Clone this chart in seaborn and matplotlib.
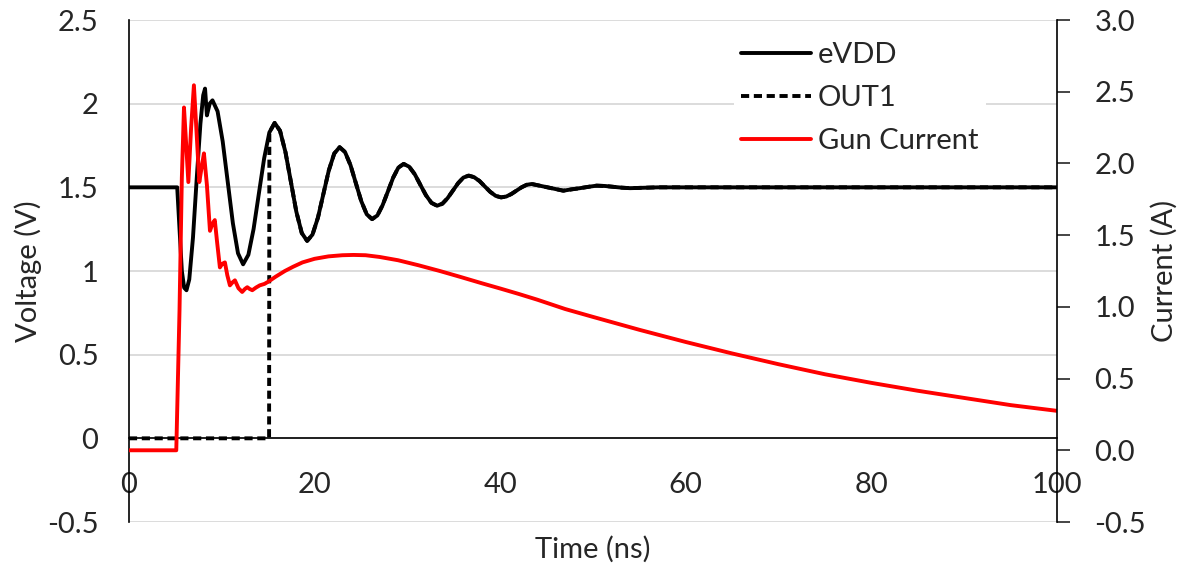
import matplotlib
matplotlib.use("Agg")
import matplotlib.pyplot as plt
import seaborn as sns
import pandas as pd

# time axis (ns) and supply voltage eVDD (V)
evdd_t = [0, 5.2, 5.4, 5.7, 5.95, 6.2, 6.5, 6.9, 7.3, 7.7,
          8.0, 8.2, 8.4, 8.7, 9.0, 9.55, 10.1, 10.65, 11.2, 11.75,
          12.3, 12.87, 13.43, 14.0, 14.57, 15.13, 15.7, 16.28, 16.87, 17.45,
          18.03, 18.62, 19.2, 19.78, 20.37, 20.95, 21.53, 22.12, 22.7, 23.28,
          23.87, 24.45, 25.03, 25.62, 26.2, 26.77, 27.33, 27.9, 28.47, 29.03,
          29.6, 30.2, 30.8, 31.4, 32.0, 32.6, 33.2, 33.77, 34.33, 34.9,
          35.47, 36.03, 36.6, 37.18, 37.77, 38.35, 38.93, 39.52, 40.1, 40.65,
          41.2, 41.75, 42.3, 42.85, 43.4, 44.25, 45.1, 45.95, 46.8, 47.7,
          48.6, 49.5, 50.4, 51.3, 52.2, 53.1, 54.0, 57.0, 100.0]
evdd_v = [1.5, 1.5, 1.3, 1.0, 0.9, 0.885, 0.95, 1.2, 1.55, 1.88,
          2.05, 2.09, 1.93, 2.0, 2.02, 1.954, 1.775, 1.53, 1.285, 1.106,
          1.04, 1.097, 1.251, 1.463, 1.674, 1.828, 1.885, 1.838, 1.709, 1.533,
          1.356, 1.227, 1.18, 1.218, 1.32, 1.46, 1.60, 1.702, 1.74, 1.711,
          1.633, 1.525, 1.418, 1.339, 1.31, 1.332, 1.393, 1.475, 1.558, 1.618,
          1.64, 1.623, 1.578, 1.515, 1.453, 1.407, 1.39, 1.402, 1.435, 1.48,
          1.525, 1.558, 1.57, 1.561, 1.538, 1.505, 1.473, 1.449, 1.44, 1.445,
          1.46, 1.48, 1.50, 1.515, 1.52, 1.51, 1.50, 1.49, 1.48, 1.488,
          1.495, 1.503, 1.51, 1.508, 1.503, 1.498, 1.495, 1.5, 1.5]

# OUT1 stays low until it switches, then follows eVDD
out1_switch = 15.1
out1_low_t = [0, out1_switch]
out1_low_v = [0, 0]

# gun current (A)
gun_t = [0, 5.1, 5.45, 5.7, 5.93, 6.15, 6.4, 6.7, 7.0, 7.3,
         7.58, 7.85, 8.08, 8.4, 8.73, 9.0, 9.25, 9.5, 9.8, 10.05,
         10.34, 10.6, 10.88, 11.15, 11.42, 11.8, 12.2, 12.5, 12.75, 13.0,
         13.29, 13.7, 14.1, 14.6, 15.0, 15.8, 16.8, 17.7, 18.7, 20.0,
         21.5, 23.0, 24.2, 25.5, 27.0, 29.0, 31.2, 33.5, 35.7, 38.0,
         40.0, 42.0, 44.0, 47.0, 50.0, 55.0, 60.0, 65.0, 70.0, 75.0,
         80.0, 85.0, 90.0, 95.0, 100.0]
gun_i = [0, 0, 0.98, 1.9, 2.39, 2.15, 1.87, 2.25, 2.545, 2.2,
         1.87, 1.98, 2.07, 1.85, 1.53, 1.58, 1.605, 1.45, 1.275, 1.30,
         1.31, 1.22, 1.15, 1.17, 1.185, 1.13, 1.104, 1.125, 1.137, 1.125,
         1.116, 1.135, 1.15, 1.16, 1.175, 1.21, 1.25, 1.28, 1.31, 1.335,
         1.352, 1.36, 1.362, 1.36, 1.348, 1.325, 1.29, 1.25, 1.209, 1.165,
         1.128, 1.09, 1.05, 0.985, 0.93, 0.84, 0.755, 0.675, 0.60, 0.53,
         0.47, 0.415, 0.365, 0.315, 0.275]

v_ticks = [-0.5, 0, 0.5, 1, 1.5, 2, 2.5]
v_labels = ["-0.5", "0", "0.5", "1", "1.5", "2", "2.5"]
i_ticks = [-0.5, 0.0, 0.5, 1.0, 1.5, 2.0, 2.5, 3.0]
x_ticks = [0, 20, 40, 60, 80, 100]

sns.set_style("white")
plt.rcParams['font.family'] = ['Lato', 'DejaVu Sans']
fs = 21
lw = 2.8

evdd_df = pd.DataFrame({'t': evdd_t, 'v': evdd_v})
after = evdd_df[evdd_df['t'] > out1_switch]
out1_df = pd.concat([pd.DataFrame({'t': out1_low_t, 'v': out1_low_v}), after], ignore_index=True)
gun_df = pd.DataFrame({'t': gun_t, 'i': gun_i})

fig = plt.figure(figsize=(11.83, 5.65), dpi=100)
ax = fig.add_axes([0.109, 0.0761, 0.7845, 0.8885])

sns.lineplot(data=out1_df, x='t', y='v', ax=ax, color='black', lw=lw,
             linestyle=(0, (2.1, 1.2)), label='OUT1', sort=False)
sns.lineplot(data=evdd_df, x='t', y='v', ax=ax, color='black', lw=lw,
             label='eVDD', sort=False)
for ln in ax.get_lines():
    ln.set_solid_joinstyle('round')

ax.set_xlim(0, 100)
ax.set_ylim(-0.5, 2.5)
ax.set_yticks(v_ticks)
ax.set_yticklabels(v_labels)
ax.set_xticks(x_ticks)
ax.grid(axis='y', color='#d9d9d9', lw=1.3)
ax.set_axisbelow(True)
for s in ['top', 'right']:
    ax.spines[s].set_visible(False)
ax.spines['bottom'].set_position(('data', 0))
ax.spines['bottom'].set_color('black')
ax.spines['bottom'].set_linewidth(1.2)
ax.spines['left'].set_color('black')
ax.spines['left'].set_linewidth(1.2)
ax.tick_params(axis='y', length=0, pad=22, labelsize=fs)
ax.tick_params(axis='x', length=0, pad=24, labelsize=fs)
ax.set_xlabel('Time (ns)', fontsize=fs)
ax.xaxis.set_label_coords(0.5, -0.028)
ax.xaxis.label.set_va('top')
ax.set_ylabel('Voltage (V)', fontsize=fs)
ax.yaxis.set_label_coords(-0.109, 0.5)
ax.yaxis.label.set_va('center')

ax2 = ax.twinx()
sns.lineplot(data=gun_df, x='t', y='i', ax=ax2, color='#ff0000', lw=lw,
             label='Gun Current', sort=False)
for ln in ax2.get_lines():
    ln.set_solid_joinstyle('round')
ax2.set_ylim(-0.5, 3.0)
ax2.set_yticks(i_ticks)
ax2.set_yticklabels([f"{v:.1f}" for v in i_ticks])
for s in ['top', 'left', 'bottom']:
    ax2.spines[s].set_visible(False)
ax2.spines['right'].set_color('black')
ax2.spines['right'].set_linewidth(1.2)
ax2.tick_params(axis='y', direction='out', length=9, width=1.2, pad=18,
                labelsize=fs, right=True)
ax2.set_ylabel('Current (A)', fontsize=fs)
ax2.yaxis.set_label_coords(1.116, 0.5)
ax2.yaxis.label.set_va('center')
ax2.grid(False)

h1, l1 = ax.get_legend_handles_labels()
h2, l2 = ax2.get_legend_handles_labels()
if ax.get_legend():
    ax.get_legend().remove()
if ax2.get_legend():
    ax2.get_legend().remove()
hd = dict(zip(l1 + l2, h1 + h2))
order = ['eVDD', 'OUT1', 'Gun Current']
leg = ax2.legend([hd[k] for k in order], order, loc='upper left',
                 bbox_to_anchor=(0.652, 0.970), fontsize=fs, frameon=True,
                 facecolor='white', edgecolor='none', framealpha=1,
                 handlelength=2.4, handletextpad=0.22, labelspacing=0.58,
                 borderpad=0.25, borderaxespad=0, fancybox=False)

fig.savefig('out.png', dpi=100)
